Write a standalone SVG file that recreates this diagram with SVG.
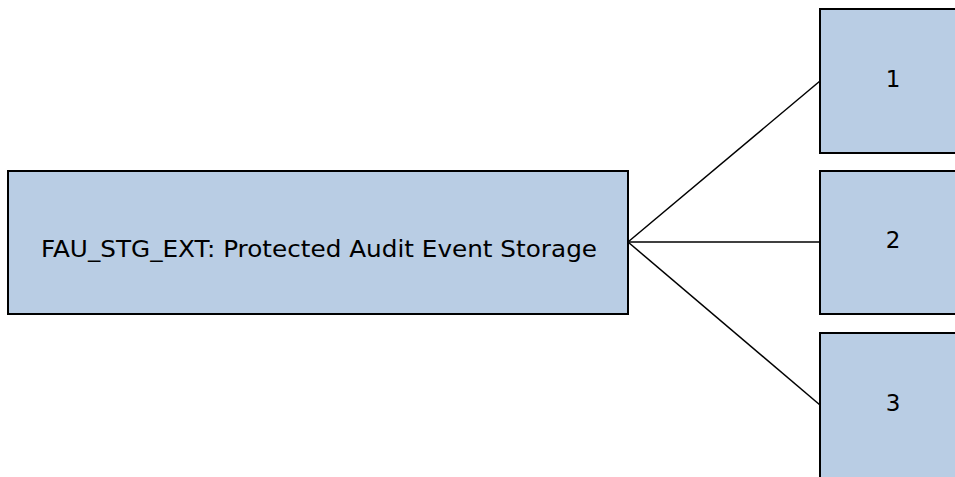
<svg xmlns="http://www.w3.org/2000/svg" width="955" height="477" viewBox="0 0 955 477">
<style>
.box{fill:#b9cde4;stroke:#000;stroke-width:2}
.t{font-family:"DejaVu Sans",Verdana,sans-serif;font-size:23px;fill:#000;text-anchor:middle}
.c{stroke:#000;stroke-width:1.5;fill:none}
</style>
<g id="connectors">
<line class="c" x1="628" y1="242" x2="820" y2="81"/>
<line class="c" x1="628" y1="242" x2="820" y2="242"/>
<line class="c" x1="628" y1="242" x2="820" y2="405"/>
</g>
<g id="main">
<rect class="box" x="8" y="171" width="620" height="143"/>
<text class="t" x="319" y="257" textLength="556" lengthAdjust="spacingAndGlyphs">FAU_STG_EXT: Protected Audit Event Storage</text>
</g>
<g id="n1">
<rect class="box" x="820" y="9" width="146" height="144"/>
<text class="t" x="893" y="87">1</text>
</g>
<g id="n2">
<rect class="box" x="820" y="171" width="146" height="143"/>
<text class="t" x="893" y="248">2</text>
</g>
<g id="n3">
<rect class="box" x="820" y="333" width="146" height="150"/>
<text class="t" x="893" y="411">3</text>
</g>
</svg>
